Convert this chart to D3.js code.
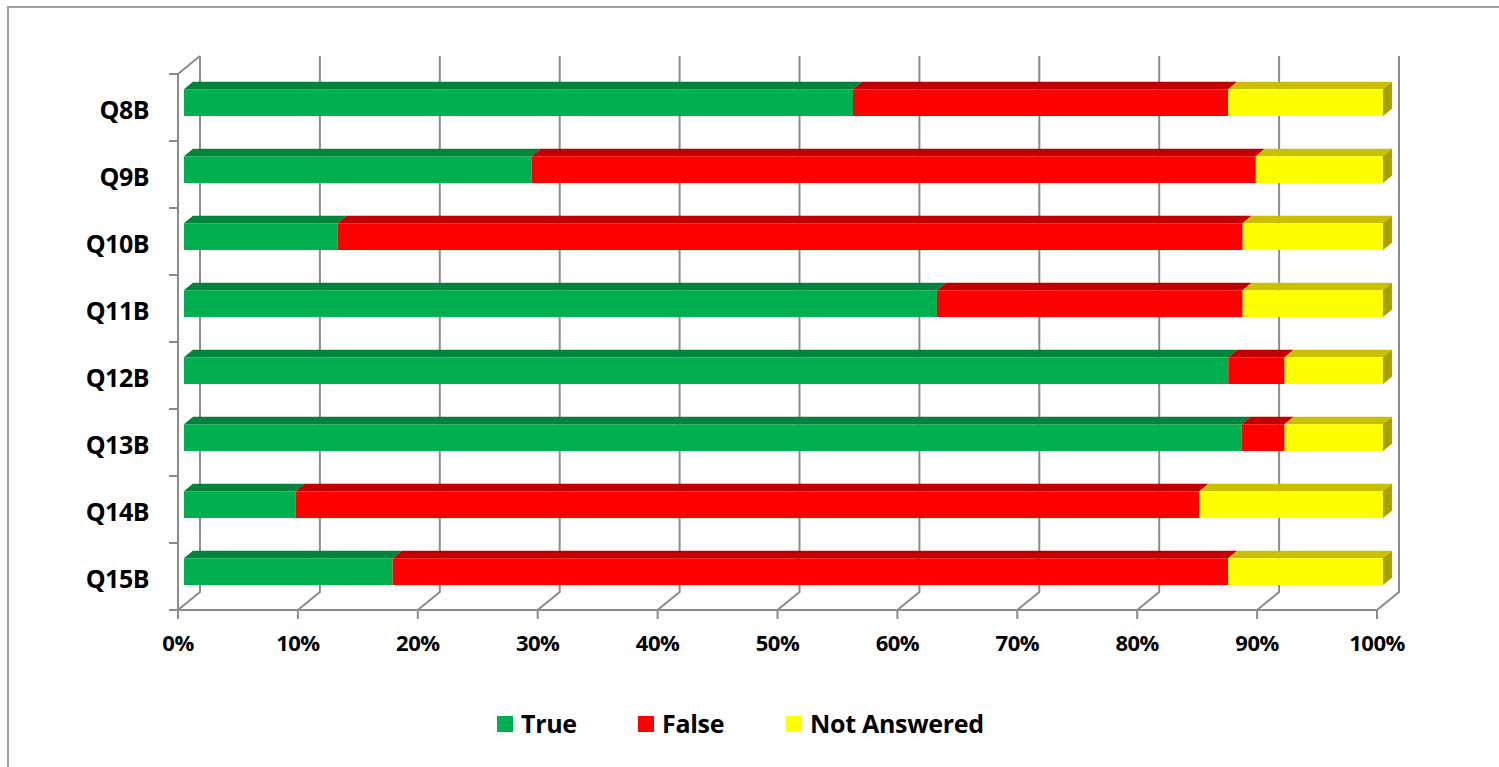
<!DOCTYPE html>
<html lang="en">
  <head>
    <meta charset="UTF-8" />
    <title>True / False answers</title>
    <style>
      body { margin: 0; background: #fff; }
      text { font-family: "Open Sans", "DejaVu Sans", sans-serif; font-weight: bold; }
    </style>
  </head>
  <body>
    <script src="https://d3js.org/d3.v7.min.js"></script>
    <script>
      const questions = ["Q8B", "Q9B", "Q10B", "Q11B", "Q12B", "Q13B", "Q14B", "Q15B"];
      const trueValues = [55.8, 29.0, 12.8, 62.8, 87.1, 88.2, 9.3, 17.4];
      const falseValues = [31.3, 60.4, 75.5, 25.5, 4.7, 3.6, 75.4, 69.7];
      const notAnswered = [12.9, 10.6, 11.7, 11.7, 8.2, 8.2, 15.3, 12.9];
      const keys = ["True", "False", "Not Answered"];
      const tickValues = [0, 10, 20, 30, 40, 50, 60, 70, 80, 90, 100];

      const data = questions.map((q, i) => ({
        name: q,
        True: trueValues[i],
        False: falseValues[i],
        "Not Answered": notAnswered[i],
      }));

      const width = 1499;
      const height = 767;
      // depth offset of the 3D box (front -> back)
      const DX = 22;
      const DY = 18;
      const zFront = 0.27;
      const zBack = 0.68;
      const gridColor = "#8c8c8c";

      const colors = {
        True: { front: "#00b050", top: "#00843c", side: "#007a36" },
        False: { front: "#ff0000", top: "#c00000", side: "#a00000" },
        "Not Answered": { front: "#ffff00", top: "#c8c000", side: "#a8a000" },
      };

      const svg = d3
        .select("body")
        .append("svg")
        .attr("width", width)
        .attr("height", height);

      // outer chart frame
      svg
        .append("rect")
        .attr("x", 8)
        .attr("y", 7)
        .attr("width", width + 10)
        .attr("height", height + 10)
        .attr("fill", "none")
        .attr("stroke", "#a0a0a0")
        .attr("stroke-width", 2);

      const plotTop = 74;
      const plotBottom = 610;

      const xScale = d3.scaleLinear().domain([0, 100]).range([178, 1377]);
      const yScale = d3
        .scaleBand()
        .domain(questions)
        .range([plotTop, plotBottom])
        .paddingInner(0.6)
        .paddingOuter(0.3);

      const proj = (v, y, z) => [xScale(v) + z * DX, y - z * DY];

      const grid = svg.append("g").attr("stroke", gridColor).attr("stroke-width", 2).attr("fill", "none");

      // vertical gridlines on back wall + floor lines
      tickValues.forEach((t) => {
        const b0 = proj(t, plotTop, 1);
        const b1 = proj(t, plotBottom, 1);
        const f1 = proj(t, plotBottom, 0);
        grid.append("path").attr("d", `M${b0}L${b1}L${f1}L${f1[0]},${f1[1] + 9}`);
      });

      // front floor edge, left wall edges
      const fl0 = proj(0, plotBottom, 0);
      const fl1 = proj(100, plotBottom, 0);
      grid.append("path").attr("d", `M${fl0}L${fl1}`);
      const lt0 = proj(0, plotTop, 0);
      const lt1 = proj(0, plotTop, 1);
      grid.append("path").attr("d", `M${lt1}L${lt0}L${fl0}`);

      // category ticks on left axis
      const step = yScale.step();
      d3.range(questions.length + 1).forEach((i) => {
        const y = plotTop + i * step;
        grid.append("path").attr("d", `M${xScale(0) - 9},${y}H${xScale(0)}`);
      });

      // stacked series
      const series = d3.stack().keys(keys)(data);

      const bars = svg.append("g");
      series.forEach((s, si) => {
        const c = colors[s.key];
        s.forEach((d) => {
          const y0 = yScale(d.data.name);
          const y1 = y0 + yScale.bandwidth();
          const a = proj(d[0], y0, zFront);
          const b = proj(d[1], y0, zFront);
          const bb = proj(d[1], y0, zBack);
          const ab = proj(d[0], y0, zBack);
          // top face
          bars.append("path").attr("d", `M${a}L${b}L${bb}L${ab}Z`).attr("fill", c.top);
          // front face
          bars
            .append("rect")
            .attr("x", a[0])
            .attr("y", a[1])
            .attr("width", b[0] - a[0])
            .attr("height", y1 - y0)
            .attr("fill", c.front);
          if (si === series.length - 1) {
            const bl = proj(d[1], y1, zFront);
            const blb = proj(d[1], y1, zBack);
            bars.append("path").attr("d", `M${b}L${bb}L${blb}L${bl}Z`).attr("fill", c.side);
          }
        });
      });

      // category labels
      svg
        .append("g")
        .selectAll("text")
        .data(questions)
        .join("text")
        .attr("x", 149)
        .attr("y", (d) => yScale(d) + yScale.bandwidth() / 2 + 1)
        .attr("text-anchor", "end")
        .attr("dominant-baseline", "central")
        .attr("font-size", 25)
        .attr("letter-spacing", -0.5)
        .text((d) => d);

      // x tick labels
      svg
        .append("g")
        .selectAll("text")
        .data(tickValues)
        .join("text")
        .attr("x", (d) => xScale(d))
        .attr("y", 651)
        .attr("text-anchor", "middle")
        .attr("font-size", 22)
        .attr("letter-spacing", -0.5)
        .text((d) => d + "%");

      // legend
      const legendItems = [
        { key: "True", x: 497 },
        { key: "False", x: 638 },
        { key: "Not Answered", x: 786 },
      ];
      const legend = svg.append("g");
      legendItems.forEach((l) => {
        legend
          .append("rect")
          .attr("x", l.x)
          .attr("y", 716)
          .attr("width", 16)
          .attr("height", 16)
          .attr("fill", colors[l.key].front);
        legend
          .append("text")
          .attr("x", l.x + 24)
          .attr("y", 733)
          .attr("font-size", 25)
          .attr("letter-spacing", -0.3)
          .text(l.key);
      });
    </script>
  </body>
</html>
